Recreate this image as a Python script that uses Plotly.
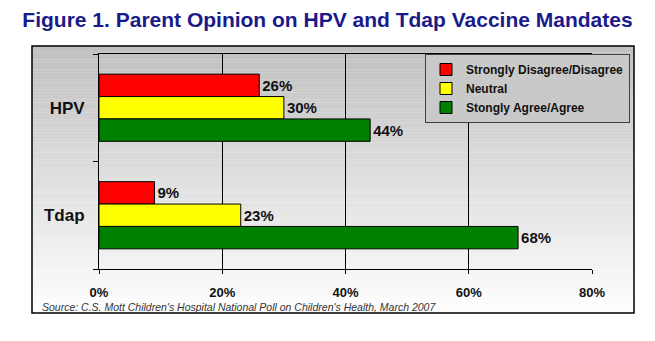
import plotly.graph_objects as go

# Survey data
categories = ["HPV", "Tdap"]
disagree = [26, 9]
neutral = [30, 23]
agree = [44, 68]
series_names = ["Strongly Disagree/Disagree", "Neutral", "Stongly Agree/Agree"]
series_colors = ["#ff0000", "#ffff00", "#008000"]
x_ticks = [0, 20, 40, 60, 80]
x_tick_labels = ["0%", "20%", "40%", "60%", "80%"]

W, H = 655, 341
L, R, T, B = 99, 63, 54, 72
pw, ph = W - L - R, H - T - B

def px_to_paper_x(px):
    return (px - L) / pw

def px_to_paper_y(py):
    return (H - B - py) / ph

fig = go.Figure()

# With the category axis reversed, the first trace sits on top of each group
for name, vals, col in zip(series_names, [disagree, neutral, agree], series_colors):
    fig.add_trace(go.Bar(
        name=f"<b>{name}</b>", y=categories, x=vals, orientation="h",
        marker=dict(color=col, line=dict(color="#000000", width=1)),
        text=[f"<b>{v}%</b>" for v in vals], textposition="outside",
        textfont=dict(family="Liberation Sans, Arial, sans-serif", size=15, color="#111111"),
        cliponaxis=False,
    ))

# Gray-to-white gradient panel behind the chart
shapes = []
x0, x1 = px_to_paper_x(32), px_to_paper_x(634)
top_px, bot_px = 46, 313
n = 80
for i in range(n):
    a = top_px + (bot_px - top_px) * i / n
    b = top_px + (bot_px - top_px) * (i + 1) / n
    t = i / (n - 1)
    g = int(round(192 + (254 - 192) * t))
    shapes.append(dict(type="rect", xref="paper", yref="paper",
                       x0=x0, x1=x1, y0=px_to_paper_y(b), y1=px_to_paper_y(a) + 0.001,
                       fillcolor=f"rgb({g},{g},{g})", line=dict(width=0), layer="below"))
shapes.append(dict(type="rect", xref="paper", yref="paper",
                   x0=x0, x1=x1, y0=px_to_paper_y(bot_px), y1=px_to_paper_y(top_px),
                   fillcolor="rgba(0,0,0,0)", line=dict(color="#000000", width=1.5), layer="below"))

fig.update_layout(
    width=W, height=H,
    margin=dict(l=L, r=R, t=T, b=B),
    paper_bgcolor="#ffffff",
    plot_bgcolor="rgba(0,0,0,0)",
    barmode="group", bargap=0.375, bargroupgap=0,
    shapes=shapes,
    title=dict(
        text="<b>Figure 1. Parent Opinion on HPV and Tdap Vaccine Mandates</b>",
        x=0.5, xanchor="center", y=1 - 20 / H, yanchor="middle",
        font=dict(family="Liberation Sans, Arial, sans-serif", size=21, color="#1a1a8a"),
    ),
    legend=dict(
        x=px_to_paper_x(630), y=1.0, xanchor="right", yanchor="top",
        traceorder="normal", tracegroupgap=0,
        bgcolor="#c9c9c9", bordercolor="#404040", borderwidth=1,
        font=dict(family="Liberation Sans, Arial, sans-serif", size=12, color="#111111"),
        itemwidth=30,
    ),
    showlegend=True,
    font=dict(family="Liberation Sans, Arial, sans-serif", color="#111111"),
)

fig.update_xaxes(
    range=[0, 80], tickvals=x_ticks, ticktext=[f"<b>{t}</b>" for t in x_tick_labels],
    showgrid=True, gridcolor="#000000", gridwidth=1,
    showline=True, linecolor="#000000", linewidth=1, mirror=True,
    ticks="outside", ticklen=4, tickcolor="#000000",
    tickfont=dict(size=13, color="#111111"),
    ticklabelstandoff=7, zeroline=False, fixedrange=True,
)
fig.update_yaxes(
    categoryorder="array", categoryarray=categories, autorange="reversed",
    tickvals=categories, ticktext=[f"<b>{c}</b>" for c in categories],
    showline=True, linecolor="#000000", linewidth=1,
    ticks="outside", ticklen=5, tickcolor="#000000", tickson="boundaries",
    tickfont=dict(size=17, color="#111111"),
    ticklabelstandoff=10, showgrid=False, fixedrange=True,
)

fig.add_annotation(
    text="<i>Source: C.S. Mott Children's Hospital National Poll on Children's Health, March 2007</i>",
    xref="paper", yref="paper", x=px_to_paper_x(40), y=px_to_paper_y(307),
    xanchor="left", yanchor="middle", showarrow=False,
    font=dict(family="Liberation Sans, Arial, sans-serif", size=10.5, color="#333333"),
)

fig.write_html("out.html")
